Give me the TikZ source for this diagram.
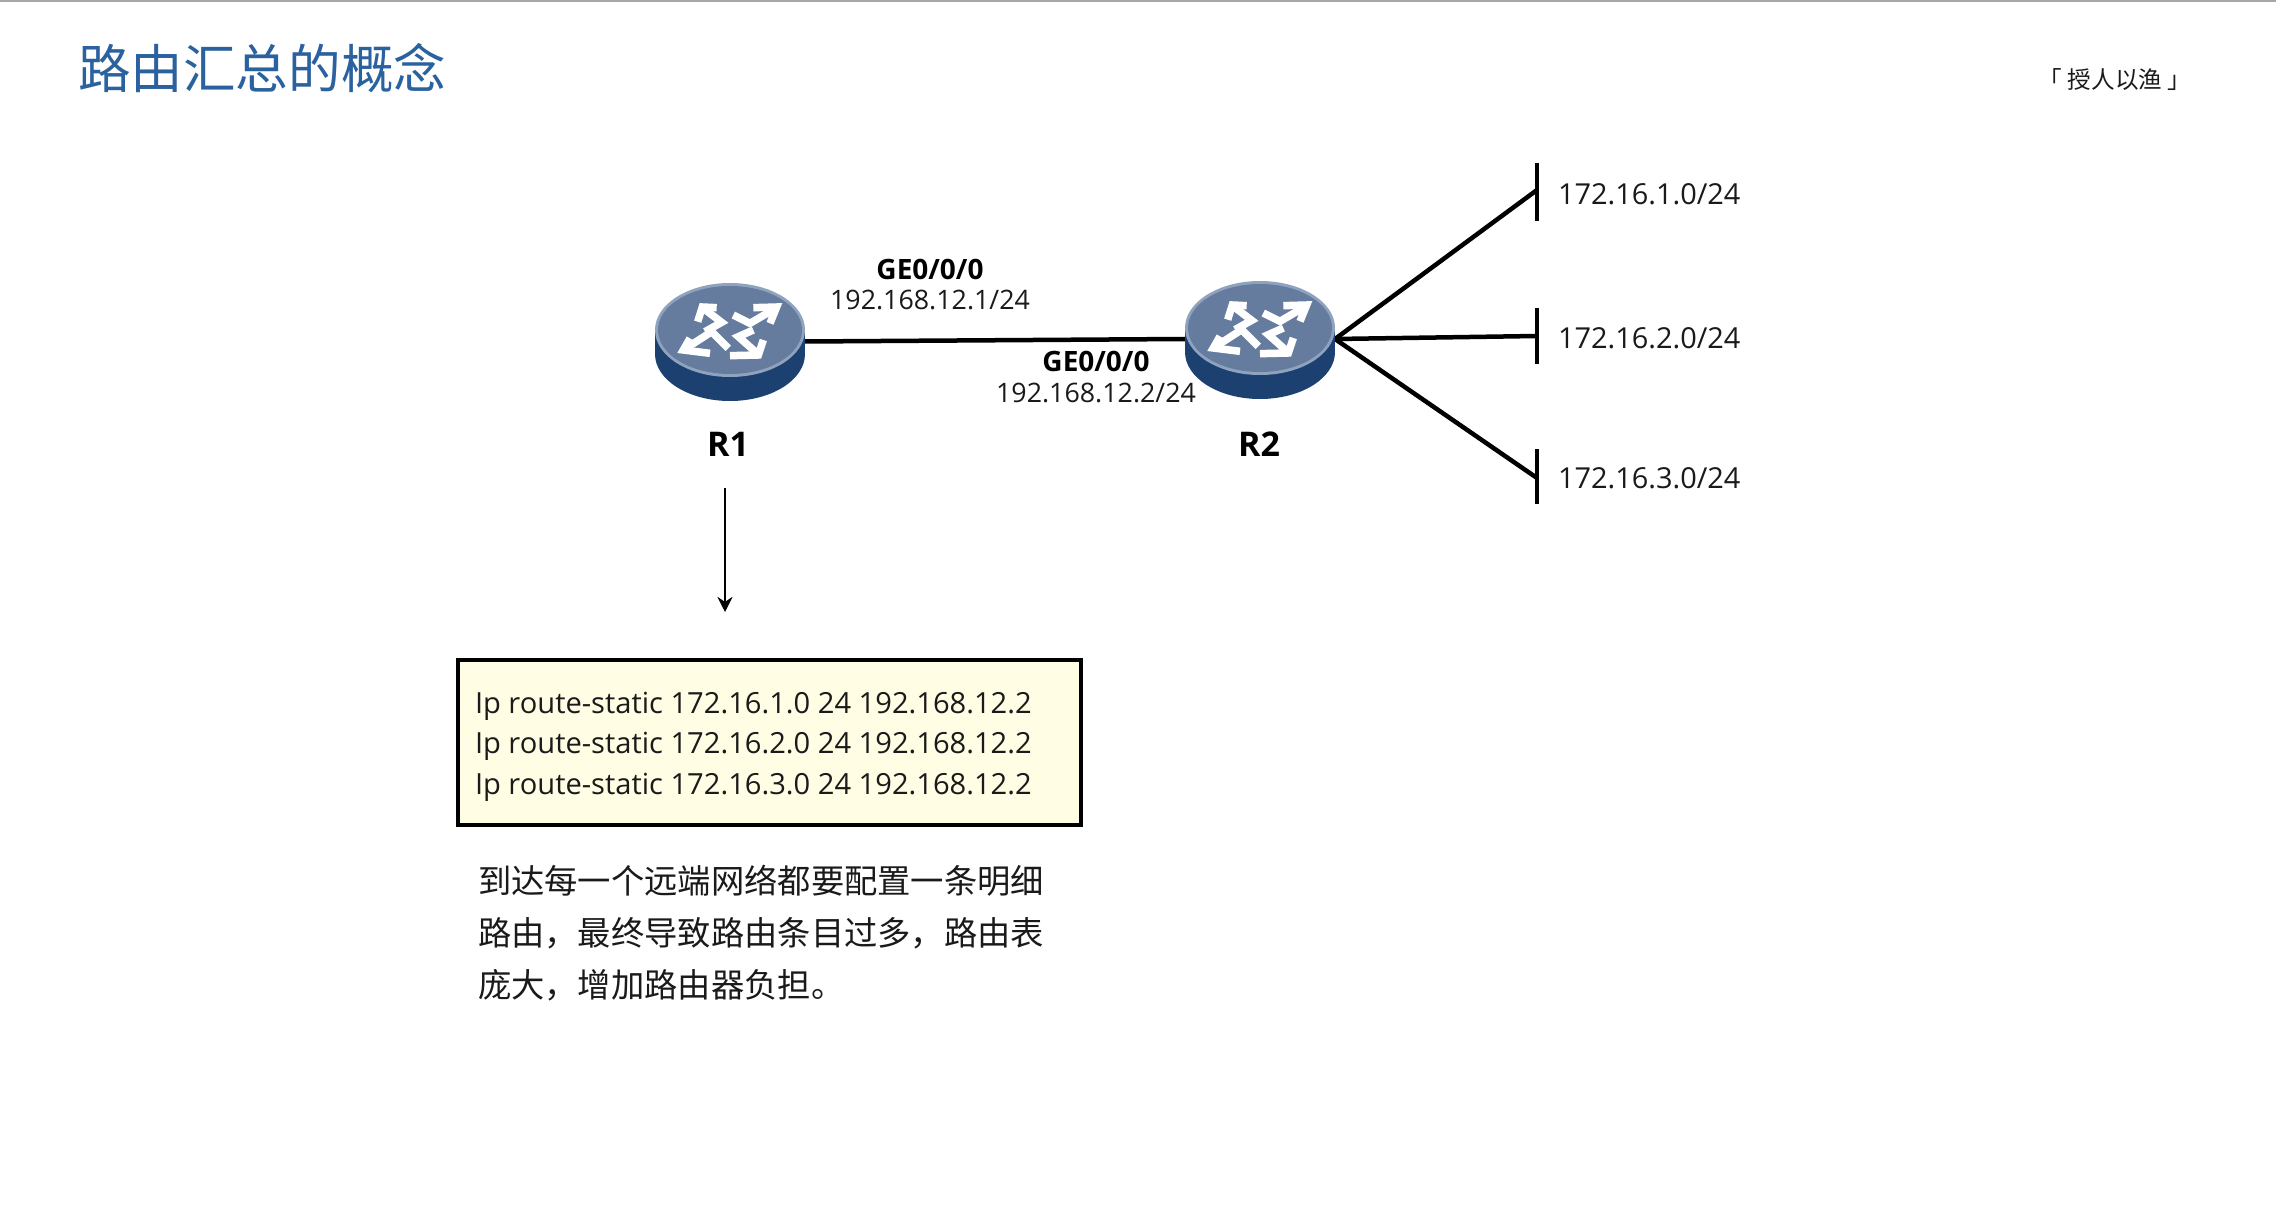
\documentclass[tikz,border=0pt]{standalone}
\usepackage{fontspec}
\setmainfont{Open Sans}
\newfontfamily\cjk{Noto Sans CJK SC}
\usetikzlibrary{arrows.meta}
\definecolor{titleblue}{HTML}{2A619F}
\definecolor{rtop}{HTML}{667C9F}
\definecolor{rrim}{HTML}{8FA3BF}
\definecolor{rside}{HTML}{1C4170}
\definecolor{boxfill}{HTML}{FFFDE3}
\definecolor{txt}{HTML}{1A1A1A}
\newcommand{\fsz}[1]{\fontsize{#1}{#1}\selectfont}
\tikzset{
  every node/.style={inner sep=0pt,outer sep=0pt,text=txt},
  routernode/.style={minimum width=150pt,minimum height=117pt},
  link/.style={line width=4.5pt,black},
  netbar/.style={line width=4.5pt,black},
  ifname/.style={font=\fsz{28}\bfseries,text=black},
  ifaddr/.style={font=\fsz{26.8}},
  netlabel/.style={font=\fsz{28.9},anchor=west},
  rname/.style={font=\fsz{34}\bfseries,text=black},
  cfgline/.style={font=\fsz{29.1},anchor=west},
  notes/.style={font=\cjk\fsz{33.3},anchor=west},
  glyphstroke/.style={line width=7.5pt,white,line join=miter,miter limit=4},
  pics/routerglyph/.style={code={
    \fill[rside] (-75,0) rectangle (75,24);
    \fill[rside] (0,24) ellipse [x radius=75,y radius=47];
    \fill[rrim] (0,0) ellipse [x radius=75,y radius=47];
    \fill[rtop] (0,0) ellipse [x radius=72,y radius=44];
    \begin{scope}[x=0.3333pt,y=-0.3333pt]
      \draw[glyphstroke] (-40,-67) -- (-83,-69) -- (-97,-25);
      \draw[glyphstroke] (-80,-65) -- (-25,-23) -- (-75,5);
      \draw[glyphstroke] (70,-67) -- (140,-69) -- (120,-20);
      \draw[glyphstroke] (140,-67) -- (60,-20) -- (10,-45);
      \draw[glyphstroke] (-120,25) -- (-140,60) -- (-60,70);
      \draw[glyphstroke] (-140,60) -- (-55,5) -- (-5,55);
      \draw[glyphstroke] (0,77) -- (85,75) -- (100,30);
      \draw[glyphstroke] (85,73) -- (25,20) -- (70,0);
    \end{scope}
  }}
}
\begin{document}
\begin{tikzpicture}[x=1pt,y=-1pt]
  \useasboundingbox (0,0) rectangle (2276,1206);
  \fill[white] (0,0) rectangle (2276,1206);
  \fill[black!35] (0,0) rectangle (2276,2);

  \node[font=\cjk\fsz{52.6},text=titleblue,anchor=west] (title) at (78,68) {路由汇总的概念};
  \node[font=\cjk\fsz{23.6},anchor=center] (tag) at (2115,80) {「 授人以渔 」};

  \node[routernode] (R1) at (730,341.5) {};
  \node[routernode] (R2) at (1260,339) {};
  \coordinate (net1) at (1537,190);
  \coordinate (net2) at (1537,336);
  \coordinate (net3) at (1537,478);
  \coordinate (net1a) at (1537,163);
  \coordinate (net1b) at (1537,221);
  \coordinate (net2a) at (1537,308);
  \coordinate (net2b) at (1537,364);
  \coordinate (net3a) at (1537,449);
  \coordinate (net3b) at (1537,504);

  \draw[link] (R1.east) -- (R2.west);
  \draw[link] (R2.east) -- (net1);
  \draw[link] (R2.east) -- (net2);
  \draw[link] (R2.east) -- (net3);
  \draw[netbar] (net1a) -- (net1b);
  \draw[netbar] (net2a) -- (net2b);
  \draw[netbar] (net3a) -- (net3b);

  \pic at (730,330) {routerglyph};
  \pic at (1260,328) {routerglyph};

  \node[rname] (r1name) at (728,444) {R1};
  \node[rname] (r2name) at (1259,444) {R2};
  \node[ifname] (if1) at (930,269) {GE0/0/0};
  \node[ifaddr] (ad1) at (930,300) {192.168.12.1/24};
  \node[ifname] (if2) at (1096,361) {GE0/0/0};
  \node[ifaddr] (ad2) at (1096,393) {192.168.12.2/24};
  \node[netlabel] (n1) at (1558,194) {172.16.1.0/24};
  \node[netlabel] (n2) at (1558,338) {172.16.2.0/24};
  \node[netlabel] (n3) at (1558,478) {172.16.3.0/24};

  \coordinate (arrowstart) at (725,488);
  \coordinate (arrowend) at (725,612);
  \draw[line width=2.5pt,black,-{Stealth[length=15pt,width=15pt]}] (arrowstart) -- (arrowend);

  \node[draw=black,line width=4.5pt,fill=boxfill,minimum width=623pt,minimum height=165pt,anchor=north west] (cfg) at (458,660) {};
  \node[cfgline] (c1) at (475,706) {Ip route-static 172.16.1.0 24 192.168.12.2};
  \node[cfgline] (c2) at (475,746) {Ip route-static 172.16.2.0 24 192.168.12.2};
  \node[cfgline] (c3) at (475,787) {Ip route-static 172.16.3.0 24 192.168.12.2};

  \node[notes] (t1) at (478,881) {到达每一个远端网络都要配置一条明细};
  \node[notes] (t2) at (478,933) {路由，最终导致路由条目过多，路由表};
  \node[notes] (t3) at (478,985) {庞大，增加路由器负担。};
\end{tikzpicture}
\end{document}
